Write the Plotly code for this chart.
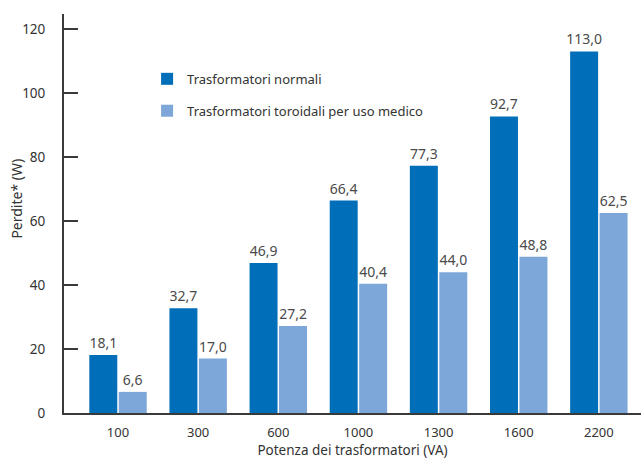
import plotly.graph_objects as go

categories = ["100", "300", "600", "1000", "1300", "1600", "2200"]
normali = [18.1, 32.7, 46.9, 66.4, 77.3, 92.7, 113.0]
toroidali = [6.6, 17.0, 27.2, 40.4, 44.0, 48.8, 62.5]
y_ticks = [0, 20, 40, 60, 80, 100, 120]

name_normali = "Trasformatori normali"
name_toroidali = "Trasformatori toroidali per uso medico"
x_title = "Potenza dei trasformatori (VA)"
y_title = "Perdite* (W)"

FONT = "Noto Sans"
AXC = "#3a3a3a"
TXT = "#333333"

def fmt(v):
    return f"{v:.1f}".replace(".", ",")

xs = list(range(len(categories)))

fig = go.Figure()
fig.add_trace(go.Bar(
    x=xs, y=normali, name=name_normali, legendgroup="a",
    marker=dict(color="#006EB9", line=dict(width=0)),
    text=[fmt(v) for v in normali], textposition="outside", constraintext="none",
    textfont=dict(color="#4a4a4a", size=14, family=FONT), cliponaxis=False,
))
fig.add_trace(go.Bar(
    x=xs, y=toroidali, name=name_toroidali, legendgroup="b",
    marker=dict(color="#7DA7D8", line=dict(width=0)),
    text=[fmt(v) for v in toroidali], textposition="outside", constraintext="none",
    textfont=dict(color="#4a4a4a", size=14, family=FONT), cliponaxis=False,
))

xr = [-0.674, 6.526]
fig.update_layout(
    width=641, height=459,
    margin=dict(l=64, r=0, t=14, b=46),
    paper_bgcolor="white", plot_bgcolor="white",
    font=dict(family=FONT, color=TXT, size=13),
    barmode="group", bargap=0.265, bargroupgap=0.05,
    showlegend=True,
    legend=dict(x=0.144, y=0.875, xanchor="left", yanchor="top",
                bgcolor="rgba(0,0,0,0)", font=dict(size=13, color=TXT, family=FONT),
                traceorder="grouped", tracegroupgap=12),
    xaxis=dict(
        range=xr, tickmode="array", tickvals=xs, ticktext=categories,
        showline=True, linecolor=AXC, linewidth=2, ticks="", showgrid=False,
        zeroline=False, tickfont=dict(size=13, color=TXT), ticklabelstandoff=6,
        title=dict(text=x_title, font=dict(size=13.5, color=TXT), standoff=3),
    ),
    xaxis2=dict(
        range=xr, overlaying="x", anchor="y", side="bottom",
        tickmode="array", tickvals=[i + 0.5 for i in xs],
        ticks="inside", ticklen=10, tickwidth=1.5, tickcolor=AXC,
        showticklabels=False, showgrid=False, zeroline=False, showline=False,
    ),
    yaxis=dict(
        range=[0, 124.7], tickmode="array", tickvals=y_ticks,
        showline=True, linecolor=AXC, linewidth=2,
        ticks="inside", ticklen=14, tickwidth=1.5, tickcolor=AXC,
        showgrid=False, zeroline=False, tickfont=dict(size=13.5, color=TXT),
        ticklabelstandoff=14,
    ),
    annotations=[dict(
        text=y_title, textangle=-90, xref="paper", yref="y",
        x=0, y=67, xshift=-47, xanchor="center", yanchor="middle", showarrow=False,
        font=dict(size=14, color=TXT, family=FONT),
    )],
)

fig.write_html("out.html")
